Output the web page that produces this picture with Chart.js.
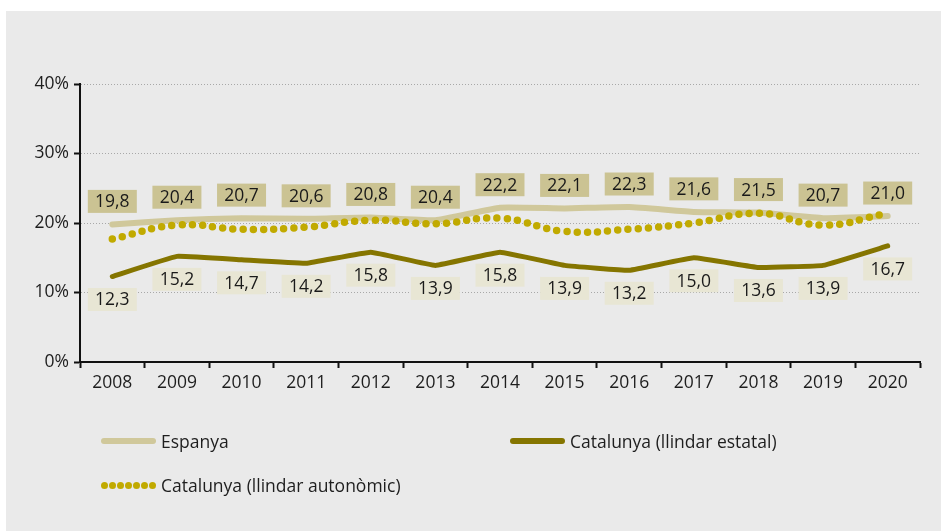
<!DOCTYPE html>
<html>
<head>
<meta charset="utf-8">
<script src="https://cdn.jsdelivr.net/npm/chart.js@4/dist/chart.umd.min.js"></script>
<style>
  html, body { margin: 0; padding: 0; background: #fff; }
  #panel { position: absolute; left: 6px; top: 11px; width: 935px; height: 520px; background: #eaeaea; }
  #chart { position: absolute; left: 0; top: 0; }
  .leg { position: absolute; font: 17.5px "Open Sans", "DejaVu Sans", sans-serif; color: #1e1e1e; display: flex; align-items: center; }
  .leg .line { width: 55px; height: 6px; border-radius: 3px; margin-right: 5px; }
  .leg .dots { width: 55px; margin-right: 5px; display: flex; justify-content: space-between; }
  .leg .dots span { width: 7px; height: 7px; border-radius: 50%; background: #c1aa00; }
</style>
</head>
<body>
<div id="panel">
  <canvas id="chart" width="935" height="520"></canvas>
  <div class="leg" style="left:95px; top:418px;"><div class="line" style="background:#d0c89b"></div>Espanya</div>
  <div class="leg" style="left:504px; top:418px;"><div class="line" style="background:#857500"></div>Catalunya (llindar estatal)</div>
  <div class="leg" style="left:95px; top:462px;"><div class="dots"><span></span><span></span><span></span><span></span><span></span><span></span><span></span></div>Catalunya (llindar autonòmic)</div>
</div>
<script>
const years = ['2008', '2009', '2010', '2011', '2012', '2013', '2014', '2015', '2016', '2017', '2018', '2019', '2020'];
const espanya = [19.8, 20.4, 20.7, 20.6, 20.8, 20.4, 22.2, 22.1, 22.3, 21.6, 21.5, 20.7, 21.0];
const catEstatal = [12.3, 15.2, 14.7, 14.2, 15.8, 13.9, 15.8, 13.9, 13.2, 15.0, 13.6, 13.9, 16.7];
const catAutonomic = [17.7, 19.7, 19.1, 19.4, 20.4, 19.9, 20.7, 18.8, 19.1, 20.0, 21.4, 19.7, 21.4];
const yTicks = [0, 10, 20, 30, 40];

const FONT = { family: '"Open Sans", "DejaVu Sans", sans-serif', size: 17.5 };

// boxes with the values, drawn above (Espanya) or below (estatal) each point
const valueBoxes = {
  id: 'valueBoxes',
  afterDatasetsDraw(chart) {
    const ctx = chart.ctx;
    ctx.save();
    ctx.font = FONT.size + 'px ' + FONT.family;
    ctx.textAlign = 'center';
    ctx.textBaseline = 'middle';
    chart.data.datasets.forEach((ds, i) => {
      if (!ds.boxOffset) return;
      const meta = chart.getDatasetMeta(i);
      meta.data.forEach((pt, j) => {
        const cx = pt.x, cy = pt.y + ds.boxOffset;
        ctx.fillStyle = ds.boxColor;
        ctx.fillRect(cx - 24.5, cy - 11.5, 49, 23);
        ctx.fillStyle = '#1a1a1a';
        ctx.fillText(ds.data[j].toFixed(1).replace('.', ','), cx, cy + 1);
      });
    });
    ctx.restore();
  }
};

new Chart(document.getElementById('chart'), {
  type: 'line',
  data: {
    labels: years,
    datasets: [
      {
        label: 'Catalunya (llindar autonòmic)',
        data: catAutonomic,
        borderColor: '#c1aa00',
        borderWidth: 7.5,
        borderDash: [0, 10.2],
        borderCapStyle: 'round',
        tension: 0.45,
        pointRadius: 0
      },
      {
        label: 'Catalunya (llindar estatal)',
        data: catEstatal,
        borderColor: '#857500',
        borderWidth: 5,
        borderCapStyle: 'round',
        borderJoinStyle: 'round',
        tension: 0.08,
        pointRadius: 0,
        boxOffset: 23,
        boxColor: '#e8e6d4'
      },
      {
        label: 'Espanya',
        data: espanya,
        borderColor: '#d0c89b',
        borderWidth: 6,
        borderCapStyle: 'round',
        tension: 0.12,
        pointRadius: 0,
        boxOffset: -23,
        boxColor: '#cbc393'
      }
    ]
  },
  options: {
    responsive: false,
    animation: false,
    devicePixelRatio: 1,
    layout: { padding: { top: 73, right: 21, bottom: 129, left: 0 } },
    plugins: { legend: { display: false }, tooltip: { enabled: false } },
    scales: {
      x: {
        offset: true,
        afterFit: s => { s.height = 40; },
        grid: { offset: true, drawOnChartArea: false, tickLength: 6, tickColor: '#111', tickWidth: 2 },
        border: { color: '#111', width: 2 },
        ticks: { font: FONT, color: '#1e1e1e', padding: 5, maxRotation: 0 }
      },
      y: {
        min: 0,
        max: 40,
        afterFit: s => { s.width = 74; },
        afterBuildTicks: s => { s.ticks = yTicks.map(v => ({ value: v })); },
        grid: { color: '#a8a8a8', lineWidth: 1, tickLength: 6, tickColor: '#111', tickWidth: 2 },
        border: { color: '#111', width: 2, dash: [1, 2] },
        ticks: { font: FONT, color: '#1e1e1e', padding: 5, callback: v => v + '%' }
      }
    }
  },
  plugins: [valueBoxes]
});
</script>
</body>
</html>
